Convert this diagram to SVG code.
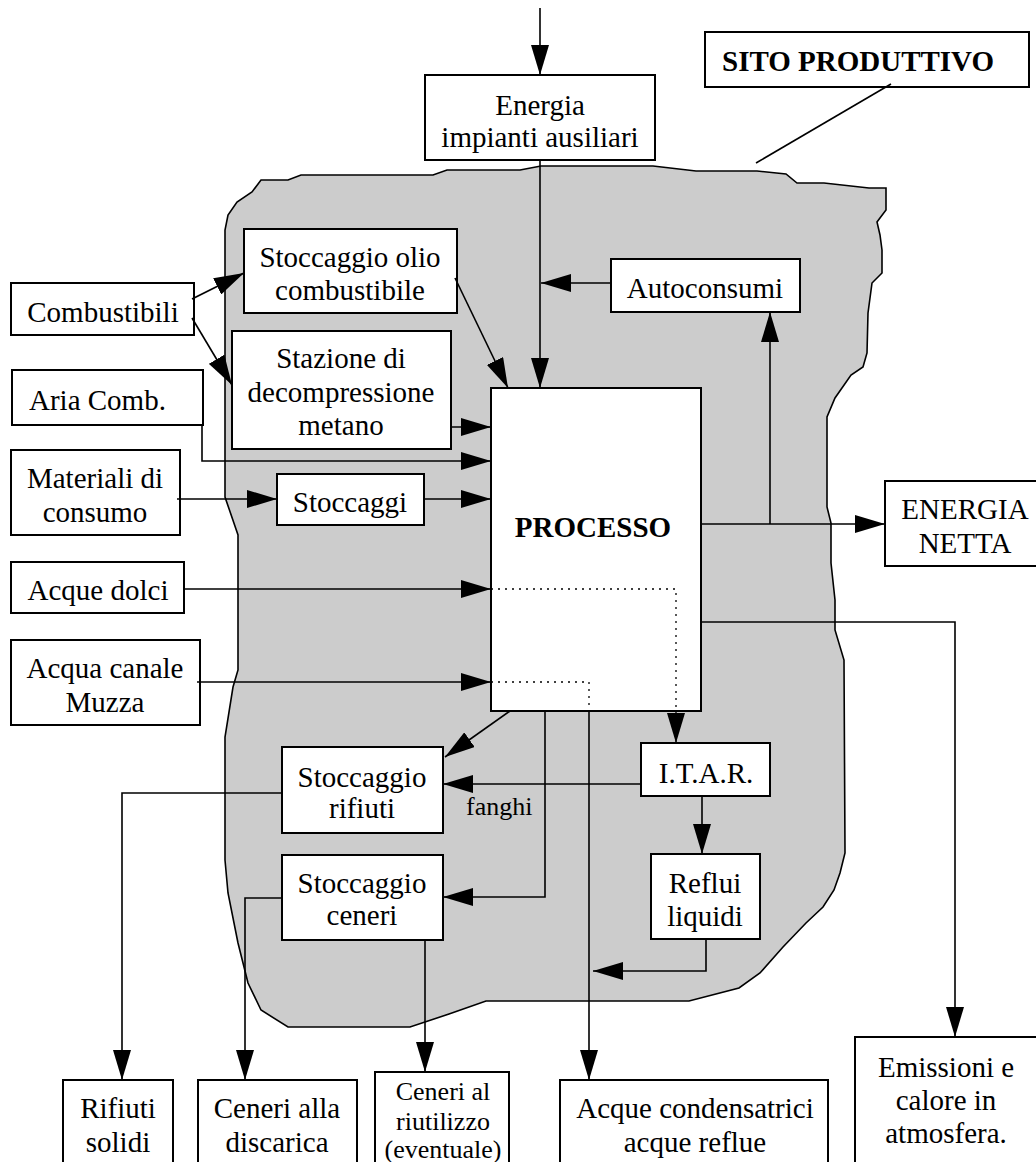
<svg xmlns="http://www.w3.org/2000/svg" width="1036" height="1162" viewBox="0 0 1036 1162">
<style>
  .box { fill: #ffffff; stroke: #000000; stroke-width: 2; }
  .t { font-family: "Liberation Serif", serif; font-size: 29px; fill: #000000; text-anchor: middle; }
  .ts { font-family: "Liberation Serif", serif; font-size: 26px; fill: #000000; text-anchor: middle; }
  .st { text-anchor: start; }
  .b { font-weight: bold; }
  .c { fill: none; stroke: #000000; stroke-width: 1.6; }
  .dot { fill: none; stroke: #000000; stroke-width: 1.3; stroke-dasharray: 2 5; }
</style>
<defs>
  <marker id="ah" markerUnits="userSpaceOnUse" markerWidth="30" markerHeight="18" refX="30" refY="9" orient="auto" viewBox="0 0 30 18">
    <path d="M0,0 L30,9 L0,18 Z" fill="#000000" stroke="none"/>
  </marker>
</defs>
<rect x="0" y="0" width="1036" height="1162" fill="#ffffff"/>

<g id="sito-produttivo-area">
  <path d="M225,497 L225,230 L228,215 L237,202 L252,192 L261,180 L288,180 L301,175 L433,175 L447,170 L520,170 L541,166 L653,166 L696,171 L757,171 L786,174 L797,183 L824,183 L869,188 L886,188 L886,210 L877,222 L880,235 L882,250 L882,273 L872,283 L868,313 L867,353 L863,367 L851,375 L835,398 L827,417 L827,507 L831,523 L831,563 L835,600 L835,630 L844,660 L845,853 L840,873 L834,890 L823,907 L806,923 L783,947 L760,973 L739,988 L689,1001 L486,1001 L449,1014 L410,1027 L288,1027 L261,1010 L248,983 L238,943 L228,893 L225,860 L225,737 L233,687 L238,670 L238,535 Z" fill="#cccccc" stroke="#000000" stroke-width="1.6"/>
</g>

<g id="n-sito">
  <rect class="box" x="705" y="32" width="324" height="55"/>
  <text class="t b st" x="722" y="71">SITO PRODUTTIVO</text>
</g>
<g id="n-energia-aux">
  <rect class="box" x="425" y="75" width="230" height="85"/>
  <text class="t" x="540" y="115">Energia</text>
  <text class="t" x="540" y="147">impianti ausiliari</text>
</g>
<g id="n-olio">
  <rect class="box" x="244" y="229" width="213" height="84"/>
  <text class="t" x="350" y="267">Stoccaggio olio</text>
  <text class="t" x="350" y="300">combustibile</text>
</g>
<g id="n-autoconsumi">
  <rect class="box" x="611" y="259" width="189" height="53"/>
  <text class="t" x="705" y="298">Autoconsumi</text>
</g>
<g id="n-combustibili">
  <rect class="box" x="11" y="283" width="183" height="52"/>
  <text class="t" x="103" y="322">Combustibili</text>
</g>
<g id="n-stazione">
  <rect class="box" x="232" y="331" width="219" height="118"/>
  <text class="t" x="341" y="368">Stazione di</text>
  <text class="t" x="341" y="402">decompressione</text>
  <text class="t" x="341" y="435">metano</text>
</g>
<g id="n-aria">
  <rect class="box" x="12" y="370" width="191" height="55"/>
  <text class="t st" x="29" y="410">Aria Comb.</text>
</g>
<g id="n-materiali">
  <rect class="box" x="11" y="450" width="169" height="85"/>
  <text class="t" x="95" y="488">Materiali di</text>
  <text class="t" x="95" y="522">consumo</text>
</g>
<g id="n-stoccaggi">
  <rect class="box" x="277" y="474" width="147" height="51"/>
  <text class="t" x="350" y="512">Stoccaggi</text>
</g>
<g id="n-processo">
  <rect class="box" x="491" y="388" width="210" height="323"/>
  <text class="t b" x="593" y="537">PROCESSO</text>
</g>
<g id="n-energia-netta">
  <rect class="box" x="885" y="481" width="160" height="85"/>
  <text class="t" x="965" y="519">ENERGIA</text>
  <text class="t" x="965" y="553">NETTA</text>
</g>
<g id="n-acque-dolci">
  <rect class="box" x="11" y="562" width="173" height="51"/>
  <text class="t" x="98" y="600">Acque dolci</text>
</g>
<g id="n-muzza">
  <rect class="box" x="11" y="640" width="189" height="85"/>
  <text class="t" x="105" y="678">Acqua canale</text>
  <text class="t" x="105" y="712">Muzza</text>
</g>
<g id="n-stocc-rifiuti">
  <rect class="box" x="282" y="747" width="161" height="86"/>
  <text class="t" x="362" y="787">Stoccaggio</text>
  <text class="t" x="362" y="818">rifiuti</text>
</g>
<g id="n-itar">
  <rect class="box" x="641" y="743" width="129" height="53"/>
  <text class="t" x="706" y="783">I.T.A.R.</text>
</g>
<g id="n-stocc-ceneri">
  <rect class="box" x="282" y="855" width="161" height="85"/>
  <text class="t" x="362" y="893">Stoccaggio</text>
  <text class="t" x="362" y="925">ceneri</text>
</g>
<g id="n-reflui">
  <rect class="box" x="651" y="854" width="109" height="85"/>
  <text class="t" x="705" y="893">Reflui</text>
  <text class="t" x="705" y="926">liquidi</text>
</g>
<g id="n-rifiuti-solidi">
  <rect class="box" x="63" y="1080" width="110" height="95"/>
  <text class="t" x="118" y="1118">Rifiuti</text>
  <text class="t" x="118" y="1152">solidi</text>
</g>
<g id="n-discarica">
  <rect class="box" x="198" y="1080" width="159" height="95"/>
  <text class="t" x="277" y="1118">Ceneri alla</text>
  <text class="t" x="277" y="1152">discarica</text>
</g>
<g id="n-riutilizzo">
  <rect class="box" x="375" y="1072" width="134" height="103"/>
  <text class="ts" x="443" y="1100">Ceneri al</text>
  <text class="ts" x="443" y="1130">riutilizzo</text>
  <text class="ts" x="443" y="1158">(eventuale)</text>
</g>
<g id="n-condensatrici">
  <rect class="box" x="560" y="1080" width="268" height="95"/>
  <text class="t" x="695" y="1118">Acque condensatrici</text>
  <text class="t" x="695" y="1152">acque reflue</text>
</g>
<g id="n-emissioni">
  <rect class="box" x="855" y="1037" width="190" height="140"/>
  <text class="t" x="946" y="1077">Emissioni e</text>
  <text class="t" x="946" y="1110">calore in</text>
  <text class="t" x="946" y="1143">atmosfera.</text>
</g>

<g id="connectors">
  <line class="c" x1="891" y1="84" x2="756" y2="163"/>
  <line class="c" x1="540" y1="8" x2="540" y2="75" marker-end="url(#ah)"/>
  <line class="c" x1="540" y1="160" x2="540" y2="388" marker-end="url(#ah)"/>
  <line class="c" x1="611" y1="283" x2="541" y2="283" marker-end="url(#ah)"/>
  <line class="c" x1="192" y1="299" x2="244" y2="273" marker-end="url(#ah)"/>
  <line class="c" x1="192" y1="318" x2="232" y2="385" marker-end="url(#ah)"/>
  <line class="c" x1="455" y1="278" x2="508" y2="388" marker-end="url(#ah)"/>
  <line class="c" x1="451" y1="427" x2="491" y2="427" marker-end="url(#ah)"/>
  <polyline class="c" points="202,425 202,461 491,461" marker-end="url(#ah)"/>
  <line class="c" x1="177" y1="499" x2="277" y2="499" marker-end="url(#ah)"/>
  <line class="c" x1="424" y1="499" x2="491" y2="499" marker-end="url(#ah)"/>
  <line class="c" x1="701" y1="524" x2="885" y2="524" marker-end="url(#ah)"/>
  <line class="c" x1="770" y1="524" x2="770" y2="312" marker-end="url(#ah)"/>
  <polyline class="c" points="701,622 955,622 955,1037" marker-end="url(#ah)"/>
  <line class="c" x1="183" y1="589" x2="491" y2="589" marker-end="url(#ah)"/>
  <polyline class="dot" points="491,589 676,589 676,743" marker-end="url(#ah)"/>
  <line class="c" x1="197" y1="682" x2="491" y2="682" marker-end="url(#ah)"/>
  <polyline class="dot" points="491,682 589,682 589,711"/>
  <line class="c" x1="589" y1="711" x2="589" y2="1080" marker-end="url(#ah)"/>
  <line class="c" x1="510" y1="711" x2="445" y2="757" marker-end="url(#ah)"/>
  <polyline class="c" points="545,711 545,897 443,897" marker-end="url(#ah)"/>
  <line class="c" x1="641" y1="784" x2="443" y2="784" marker-end="url(#ah)"/>
  <text class="ts st" x="466" y="815">fanghi</text>
  <line class="c" x1="702" y1="796" x2="702" y2="854" marker-end="url(#ah)"/>
  <polyline class="c" points="706,939 706,971 593,971" marker-end="url(#ah)"/>
  <polyline class="c" points="282,793 122,793 122,1080" marker-end="url(#ah)"/>
  <polyline class="c" points="282,898 245,898 245,1080" marker-end="url(#ah)"/>
  <line class="c" x1="425" y1="940" x2="425" y2="1072" marker-end="url(#ah)"/>
</g>
</svg>
